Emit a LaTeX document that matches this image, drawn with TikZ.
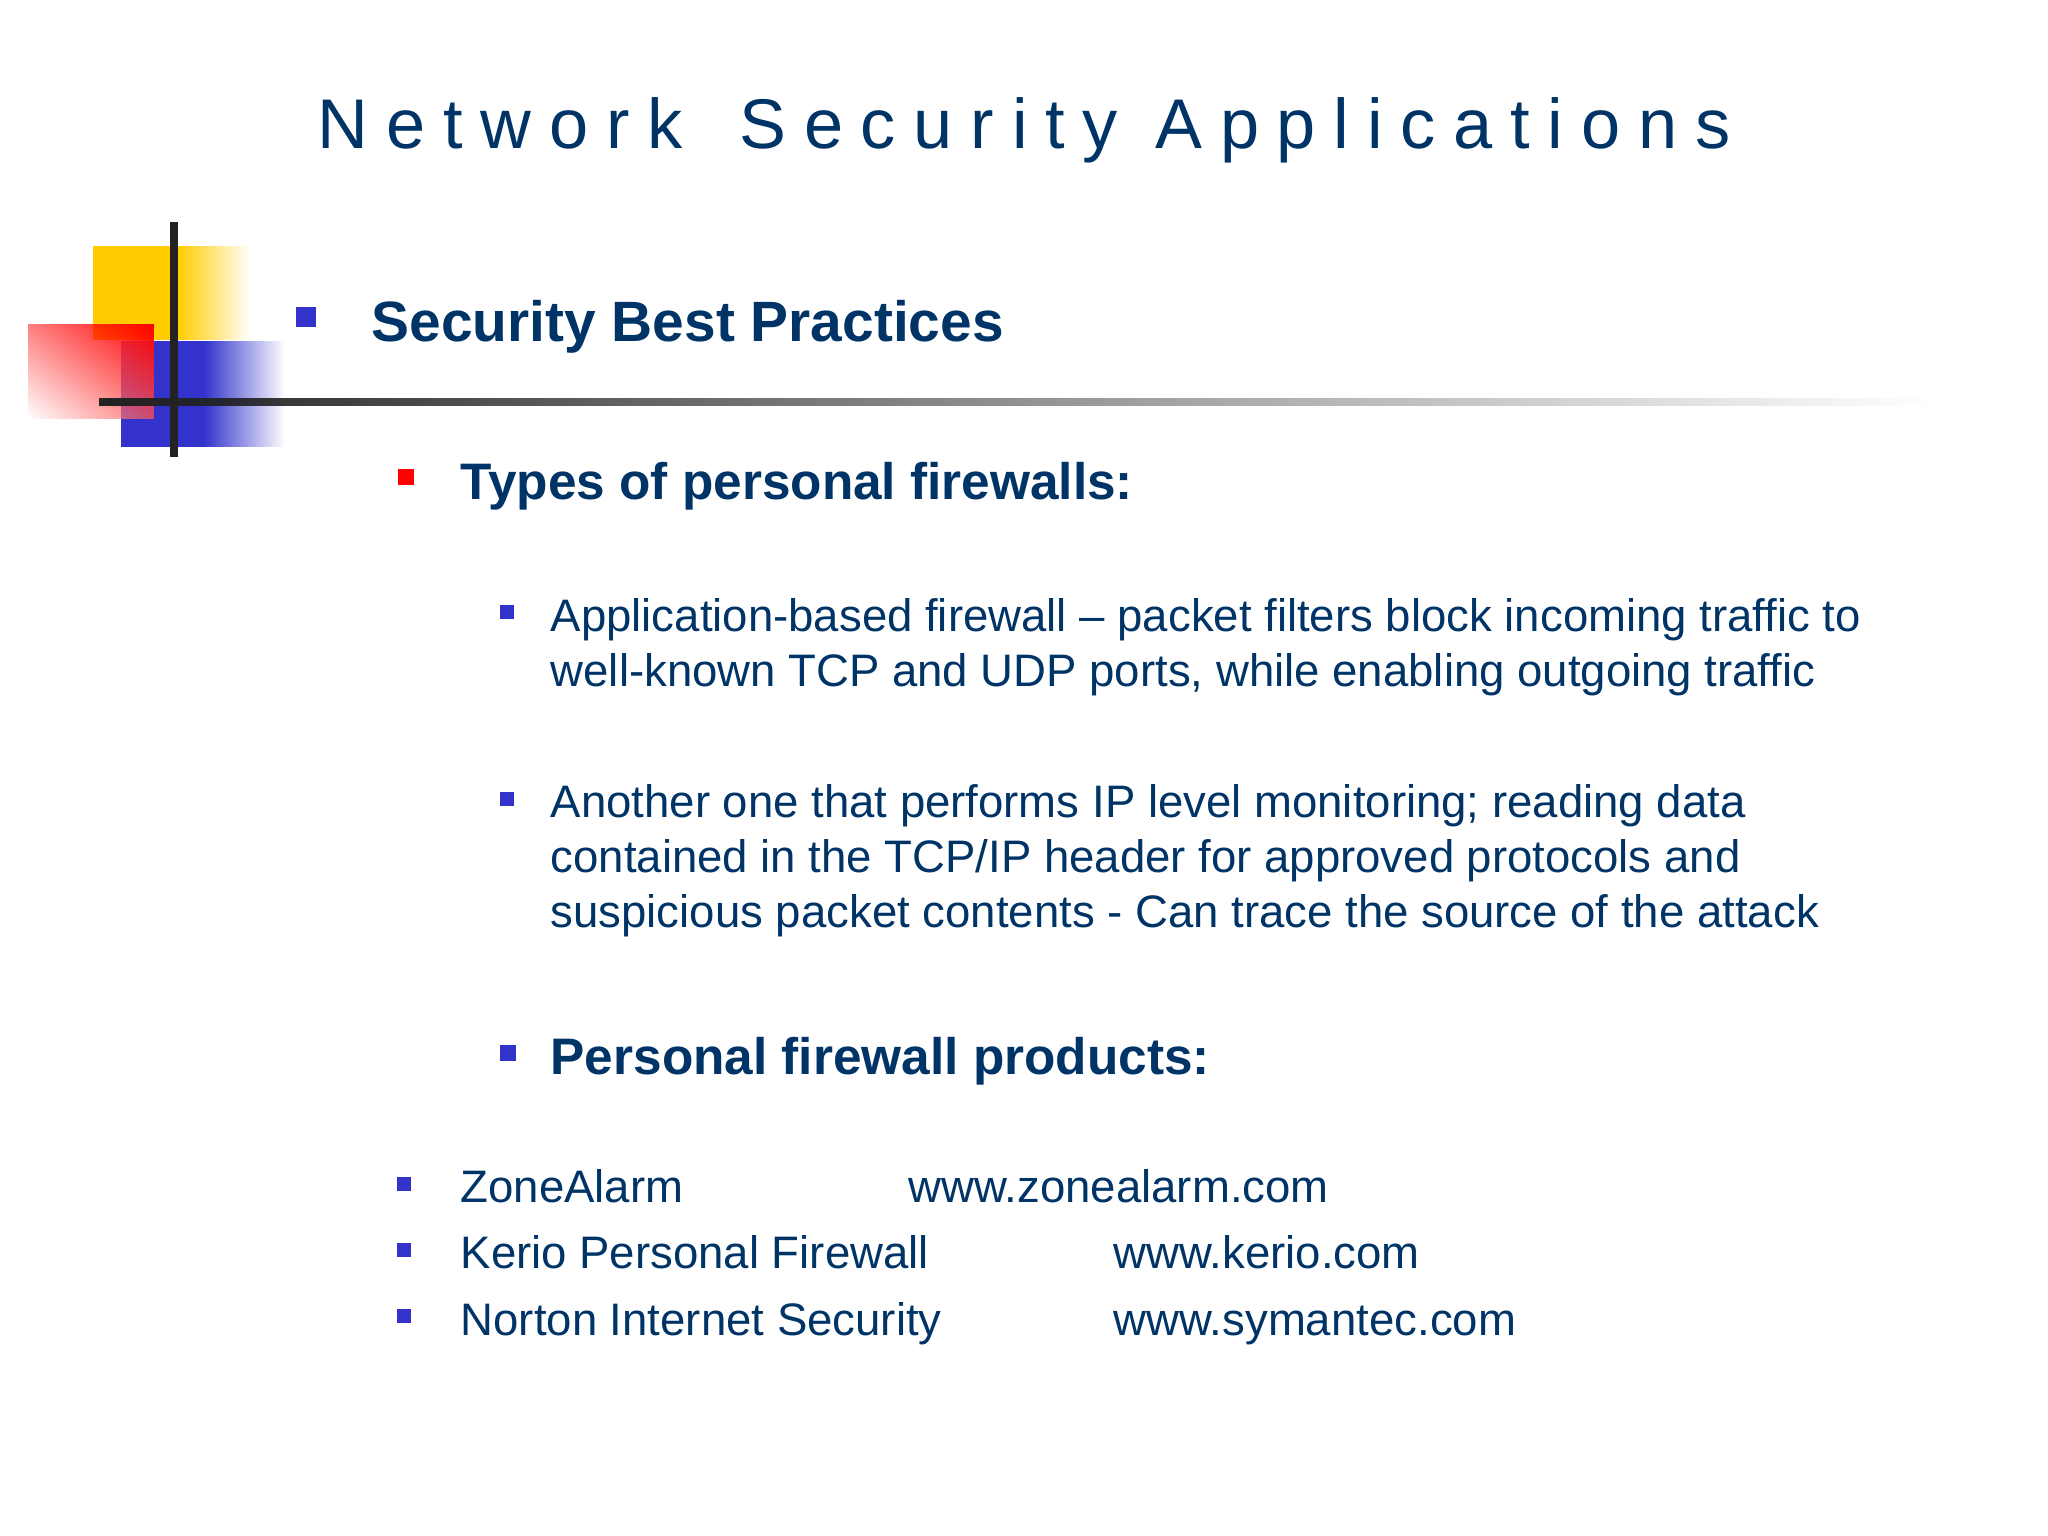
\documentclass[tikz,border=0pt]{standalone}
\usepackage{fontspec}
\setmainfont{Liberation Sans}
\usetikzlibrary{fadings}
\definecolor{navy}{HTML}{003366}
\definecolor{bulletblue}{HTML}{3333CC}
\definecolor{logoyellow}{HTML}{FFCC00}
\definecolor{barblack}{HTML}{222222}
\tikzfading[name=fadeeast, left color=transparent!0, right color=transparent!100]
\tikzfading[name=fadecorner, top color=transparent!0, bottom color=transparent!100]
\tikzstyle{bodytext}=[anchor=base west, inner sep=0pt, text=navy, font=\fontsize{12.95pt}{15.5pt}\selectfont, align=left]
\tikzstyle{headtext}=[anchor=base west, inner sep=0pt, text=navy, font=\fontsize{14.6pt}{17pt}\selectfont\bfseries]
\tikzstyle{smallbullet}=[inner sep=0pt, fill=bulletblue, minimum size=3.9pt]
\begin{document}
\begin{tikzpicture}[x=0.01cm, y=-0.01cm]
    \useasboundingbox (0,0) rectangle (2048,1536);
    % logo blocks
    \fill[logoyellow] (93,246) rectangle (178,340);
    \path[fill=logoyellow, path fading=fadeeast] (178,246) rectangle (250,340);
    \fill[bulletblue] (121,341) rectangle (204,447);
    \path[fill=bulletblue, path fading=fadeeast] (204,341) rectangle (285,447);
    \fill[white, opacity=0.5] (121,341) rectangle (154,419);
    \path[fill=red, path fading=fadecorner, fading transform={rotate=-45,scale=1.41}] (28,324) rectangle (154,419);
    \coordinate (barleft) at (99,402);
    \coordinate (barright) at (1930,402);
    \coordinate (stemtop) at (174,222);
    \coordinate (stembottom) at (174,457);
    \path[fill=barblack, path fading=fadeeast] (barleft) ++(0,-4) rectangle ([yshift=-0.04cm]barright);
    \draw[barblack, line width=2pt] (stemtop) -- (stembottom);

    \node[anchor=base west, inner sep=0pt, text=navy, font=\fontsize{20pt}{24pt}\selectfont\addfontfeature{LetterSpace=25.3}] (title) at (317,148) {Network\hspace{5.6pt} Security Applications};

    \node[inner sep=0pt, fill=bulletblue, minimum size=5.7pt] (bulletbest) at (306,317) {};
    \node[headtext, font=\fontsize{16.17pt}{20pt}\selectfont\bfseries] (best) at (371,341) {Security Best Practices};

    \node[inner sep=0pt, fill=red, minimum size=4.6pt] (bullettypes) at (406,477) {};
    \node[headtext] (types) at (460,499) {Types of personal firewalls:};

    \node[smallbullet] (bulletapp) at (507,612) {};
    \node[bodytext] (app) at (550,686) {Application-based firewall – packet filters block incoming traffic to\\well-known TCP and UDP ports, while enabling outgoing traffic};

    \node[smallbullet] (bulletip) at (507,799) {};
    \node[bodytext] (ip) at (550,927) {Another one that performs IP level monitoring; reading data\\contained in the TCP/IP header for approved protocols and\\suspicious packet contents - Can trace the source of the attack};

    \node[smallbullet, minimum size=4.4pt] (bulletprod) at (508,1053) {};
    \node[headtext] (prod) at (550,1074) {Personal firewall products:};

    \node[smallbullet] (bulletzone) at (404,1184) {};
    \node[bodytext] (zone) at (460,1202) {ZoneAlarm};
    \node[bodytext] (zoneurl) at (908,1202) {www.zonealarm.com};

    \node[smallbullet] (bulletkerio) at (404,1250) {};
    \node[bodytext] (kerio) at (460,1268) {Kerio Personal Firewall};
    \node[bodytext] (keriourl) at (1113,1268) {www.kerio.com};

    \node[smallbullet] (bulletnorton) at (404,1316) {};
    \node[bodytext] (norton) at (460,1335) {Norton Internet Security};
    \node[bodytext] (nortonurl) at (1113,1335) {www.symantec.com};
\end{tikzpicture}
\end{document}
